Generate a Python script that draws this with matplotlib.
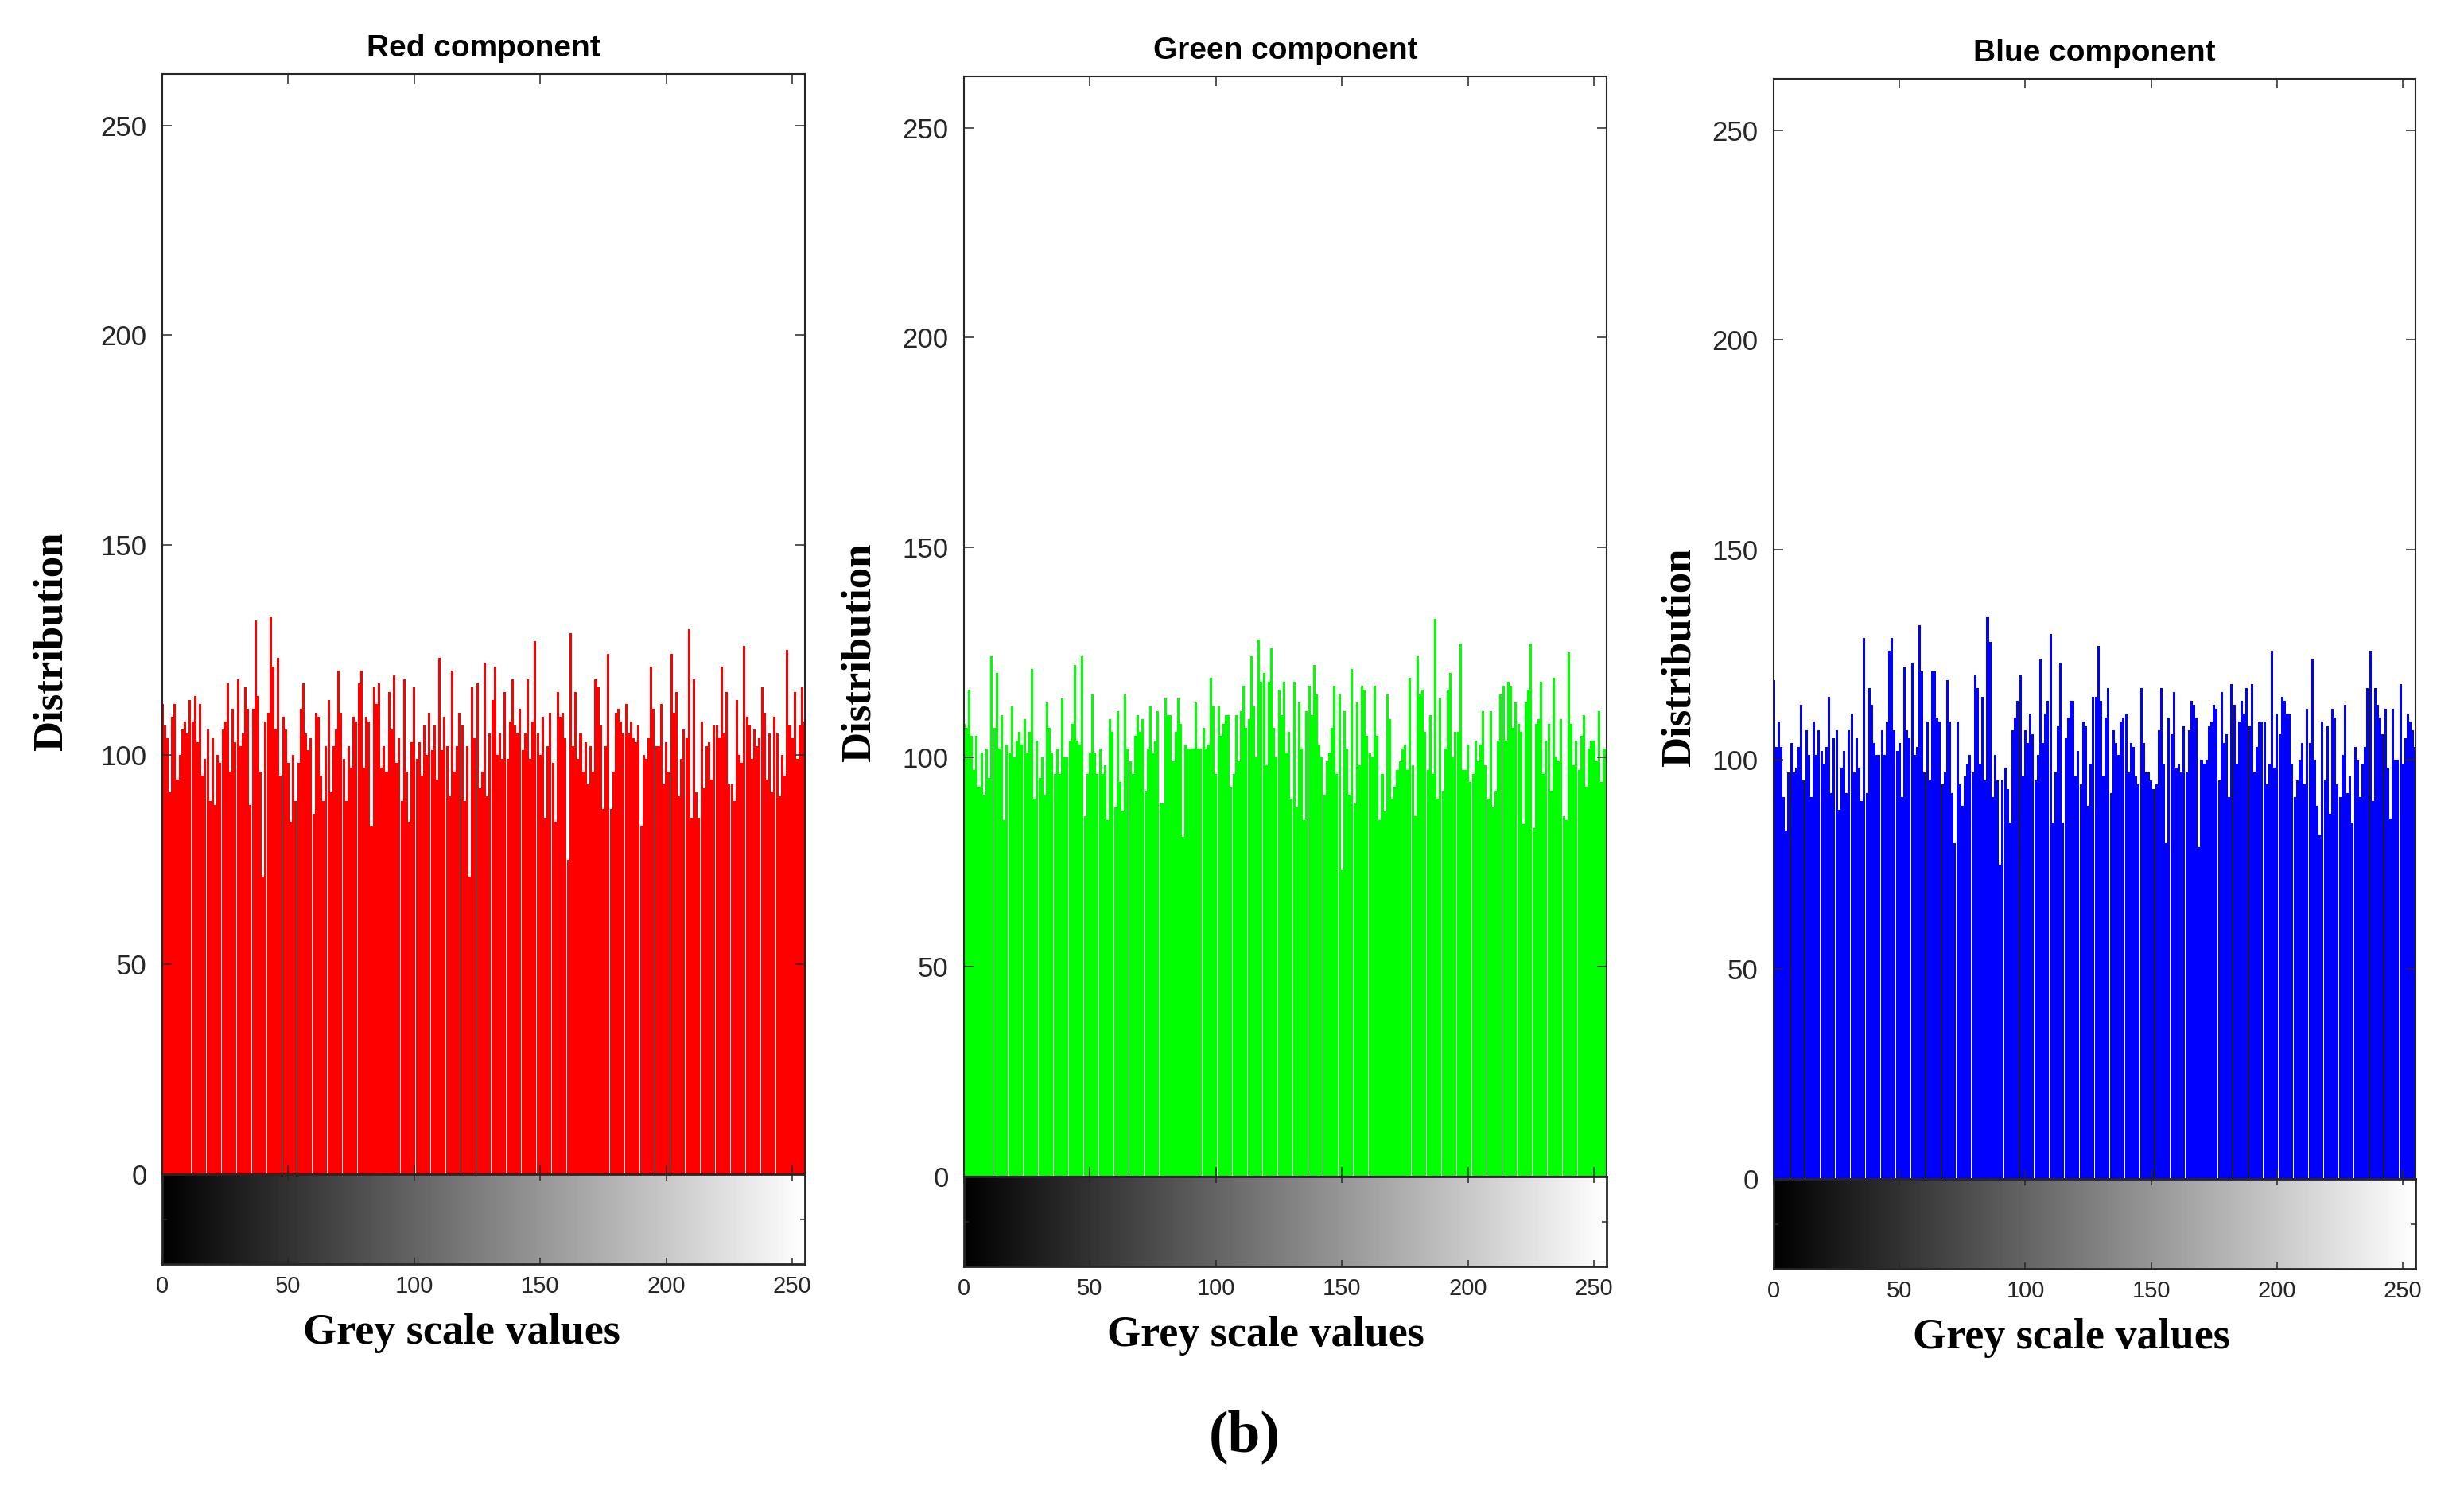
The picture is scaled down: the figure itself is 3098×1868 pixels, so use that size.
import numpy as np
import matplotlib
matplotlib.use("Agg")
import matplotlib.pyplot as plt

# ---------------- data (histogram counts) ----------------
grey_levels = list(range(256))

red_counts = [
    112,107,104,91,109,112,94,100,
    106,108,105,113,108,114,103,
    112,95,99,106,89,104,88,
    100,98,106,108,117,96,111,
    103,118,102,105,116,111,88,
    111,132,114,96,71,108,110,
    133,121,106,123,95,109,106,
    98,84,100,89,98,111,117,
    105,101,104,86,110,109,95,
    89,102,113,91,102,106,120,
    110,99,89,102,97,109,108,
    117,120,97,109,108,83,116,
    112,117,97,102,96,115,106,119,
    98,104,89,118,96,84,103,
    116,99,103,95,107,100,110,
    101,107,94,123,101,109,102,
    90,120,96,102,110,107,89,
    102,71,116,104,117,92,96,
    122,90,105,113,
    121,100,105,
    99,115,99,108,118,107,105,
    111,101,105,118,99,108,127,
    105,100,109,85,102,110,98,
    84,115,109,110,104,75,129,
    102,115,99,105,96,103,93,
    102,96,118,116,107,87,102,124,
    87,96,110,111,108,105,112,
    105,108,104,103,107,83,100,
    99,104,121,111,102,102,112,
    93,103,96,124,110,115,90,
    99,106,104,130,85,118,91,
    85,108,92,102,103,94,107,
    107,104,121,105,115,93,93,
    89,113,100,98,126,109,107,
    99,106,102,104,116,110,94,
    105,91,109,105,90,100,95,
    125,107,104,115,99,107,116,108,
]

green_counts = [
    108,107,116,105,97,105,93,
    101,91,102,95,124,107,120,
    102,110,85,103,101,112,100,
    104,106,103,109,101,106,121,
    90,104,95,100,91,113,107,
    101,96,102,96,114,100,100,
    104,108,122,104,103,124,86,
    96,101,115,101,96,102,96,
    98,85,109,106,88,111,94,
    87,115,102,99,96,105,
    110,106,109,92,102,112,101,
    104,111,89,89,114,110,110,
    99,106,114,108,81,103,102,
    102,102,113,102,102,107,102,
    103,119,112,96,112,105,108,
    110,110,93,96,110,99,111,
    117,107,109,124,112,100,128,
    118,120,98,118,126,107,100,
    116,110,118,101,106,90,
    118,88,113,102,85,111,117,
    110,122,115,103,100,91,99,
    101,107,117,96,115,73,111,
    102,91,121,89,113,98,117,
    116,105,101,100,117,105,85,
    96,87,115,109,90,93,97,
    99,102,103,97,119,98,86,
    124,115,116,106,97,110,96,
    133,90,114,92,102,116,
    120,100,106,106,127,97,97,
    103,94,96,104,99,103,111,
    98,90,111,88,92,104,115,
    117,104,118,117,107,113,108,
    106,84,113,116,127,83,108,
    109,118,96,104,108,92,119,
    100,99,109,86,85,125,108,
    98,104,97,105,110,93,102,
    104,104,99,111,94,102,102,
]

blue_counts = [
    119,103,109,103,91,83,97,104,
    97,98,103,113,95,107,101,
    91,109,101,107,102,99,103,
    115,92,105,107,88,98,102,
    92,107,111,97,105,98,90,
    129,92,117,113,104,101,101,
    107,101,109,126,129,107,102,
    104,91,122,107,105,123,101,
    103,132,121,97,109,95,121,
    121,110,109,94,97,119,109,
    92,80,109,94,89,96,99,
    101,97,120,117,99,115,95,
    134,128,91,101,95,75,95,98,
    93,85,107,110,114,120,96,
    107,104,111,106,95,101,124,
    104,111,114,130,85,97,108,
    123,85,105,110,114,114,96,
    102,94,109,108,89,99,115,
    115,127,114,96,
    110,117,92,
    107,104,101,109,110,111,97,
    104,103,96,94,117,104,97,
    97,95,93,94,107,117,99,
    80,110,106,116,98,99,97,
    108,97,107,114,113,110,79,
    100,99,100,108,109,113,112,95,
    116,104,106,91,118,113,99,
    109,114,111,117,108,118,97,
    103,109,109,109,94,99,126,
    98,111,106,115,114,111,111,
    99,91,95,100,104,94,112,
    104,124,100,89,82,109,95,
    108,87,112,110,94,91,101,
    113,92,96,85,103,100,91,
    99,103,117,126,90,117,113,
    110,106,112,98,86,112,100,
    100,118,99,105,111,109,107,103,
]

titles = ["Red component", "Green component", "Blue component"]
bar_colors = ["#FF0000", "#00FF00", "#0000FF"]
y_ticks = [0, 50, 100, 150, 200, 250]
x_ticks = [0, 50, 100, 150, 200, 250]
y_label = "Distribution"
x_label = "Grey scale values"
panel_tag = "(b)"

# ---------------- layout (pixels of the 3098 x 1868 canvas) ----------------
W, H = 3098, 1868
fig = plt.figure(figsize=(W / 100, H / 100), dpi=100)
fig.patch.set_facecolor("white")

def fx(px):
    return px / W

def fy(py):
    return 1 - py / H

AX = "#262626"
SANS = ["Liberation Sans", "DejaVu Sans"]
SERIF = ["Liberation Serif", "DejaVu Serif"]

panels = [
    dict(left=204, right=1012, dy=0, ylab_x=65, ylab_y=806, xlab_x=580, xlab_y=1676, title_y=61),
    dict(left=1212, right=2020, dy=3, ylab_x=1081, ylab_y=820, xlab_x=1591, xlab_y=1679, title_y=64),
    dict(left=2230, right=3037, dy=6, ylab_x=2112, ylab_y=826, xlab_x=2604, xlab_y=1682, title_y=67),
]
TOP, ZERO, CBOT = 93, 1476, 1589

all_counts = [red_counts, green_counts, blue_counts]
gradient = np.array(grey_levels, dtype=float)[None, :]

for p, counts, col, ttl in zip(panels, all_counts, bar_colors, titles):
    l, r, dy = p["left"], p["right"], p["dy"]
    ax = fig.add_axes([fx(l), fy(ZERO + dy), (r - l) / W, (ZERO - TOP) / H])
    ax.bar(grey_levels, counts, width=0.955, color=col, linewidth=0,
           antialiased=False, align="center")
    ax.set_xlim(0, 255)
    ax.set_ylim(0, 262.3)
    ax.set_yticks(y_ticks)
    ax.set_xticks(x_ticks)
    ax.set_xticklabels([])
    ax.tick_params(axis="both", direction="in", length=8.5, width=1.1, color=AX,
                   top=True, right=True, bottom=True, left=True)
    ax.tick_params(axis="y", labelsize=25, labelcolor=AX, pad=14)
    for lab in ax.get_yticklabels():
        lab.set_fontfamily(SANS)
    for s in ax.spines.values():
        s.set_linewidth(1.5)
        s.set_color(AX)

    # grey-level colour strip
    cax = fig.add_axes([fx(l), fy(CBOT + dy), (r - l) / W, (CBOT - ZERO) / H])
    cax.imshow(gradient, cmap="gray", aspect="auto", vmin=0, vmax=255,
               extent=(-0.5, 255.5, 0, 1), interpolation="bilinear")
    cax.set_xlim(0, 255)
    cax.set_ylim(0, 1)
    cax.set_xticks(x_ticks)
    cax.set_yticks([0.5])
    cax.set_yticklabels([])
    cax.tick_params(axis="x", direction="in", length=6, width=1.1, color=AX,
                    top=True, bottom=True, labelsize=21, labelcolor=AX, pad=10)
    cax.tick_params(axis="y", direction="in", length=4, width=1.1, color=AX,
                    left=True, right=True)
    for lab in cax.get_xticklabels():
        lab.set_fontfamily(SANS)
    for s in cax.spines.values():
        s.set_linewidth(2.0)
        s.set_color(AX)

    # texts
    fig.text(fx((l + r) / 2), fy(p["title_y"]), ttl, ha="center", va="center",
             fontsize=28, fontweight="bold", family=SANS, color="black")
    fig.text(fx(p["ylab_x"]), fy(p["ylab_y"]), y_label, rotation=90, ha="center",
             va="center", fontsize=38, fontweight="bold", family=SERIF, color="black")
    fig.text(fx(p["xlab_x"]), fy(p["xlab_y"]), x_label, ha="center", va="center",
             fontsize=39, fontweight="bold", family=SERIF, color="black")

fig.text(fx(1565), fy(1806), panel_tag, ha="center", va="center", fontsize=53,
         fontweight="bold", family=SERIF, color="black")

fig.savefig("out.png", dpi=100, facecolor="white")
